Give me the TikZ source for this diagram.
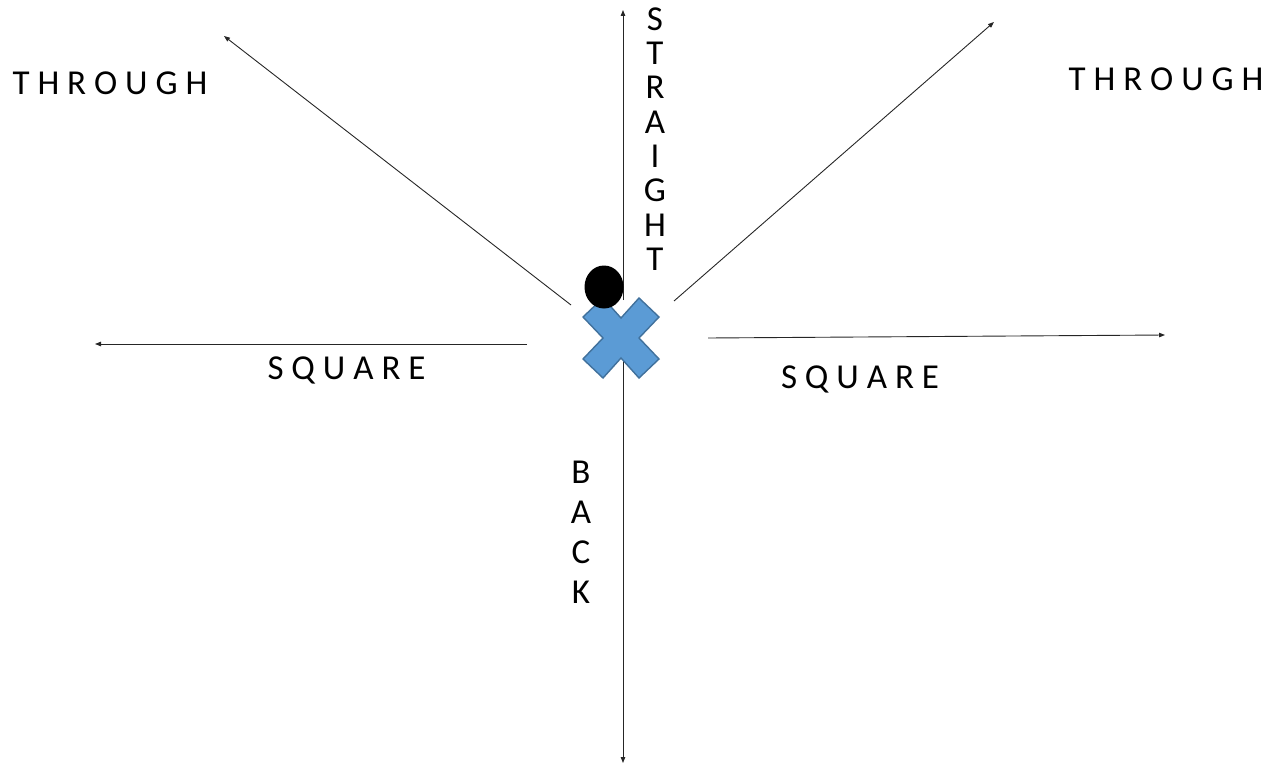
\documentclass[tikz,border=0pt]{standalone}
\usepackage{fontspec}
\setmainfont{Carlito}
\usetikzlibrary{arrows.meta,shapes.geometric}
\definecolor{xfill}{HTML}{5B9BD5}
\definecolor{xline}{HTML}{41719C}
\tikzset{
  px/.style={x=1pt,y=-1pt},
  ray/.style={draw=black!85,line width=0.9pt,-{Triangle[length=6pt,width=4.5pt]}},
  lbl/.style={inner sep=0pt,anchor=base,font=\fontsize{35}{36}\selectfont},
  stack/.style={inner sep=0pt,align=center,anchor=center},
}
\begin{document}
\begin{tikzpicture}[px]
\useasboundingbox (0,0) rectangle (1273,765);
% anchor coordinates
\coordinate (topS) at (623,300);
\coordinate (topE) at (623,10);
\coordinate (botS) at (623,360);
\coordinate (botE) at (623,763);
\coordinate (leftS) at (527,344);
\coordinate (leftE) at (95,344);
\coordinate (rightS) at (708,338);
\coordinate (rightE) at (1165,335);
\coordinate (ulS) at (571,305);
\coordinate (ulE) at (224,36);
\coordinate (urS) at (674,301);
\coordinate (urE) at (994,22);
% rays
\draw[ray] (topS) -- (topE);
\draw[ray] (botS) -- (botE);
\draw[ray] (leftS) -- (leftE);
\draw[ray] (rightS) -- (rightE);
\draw[ray] (ulS) -- (ulE);
\draw[ray] (urS) -- (urE);
% X mark
\begin{scope}[shift={(621,338)}]
\draw[fill=xfill,draw=xline,line width=1.4pt,line join=miter]
  (0,-20) -- (18,-40) -- (38,-21) -- (18,0) -- (38,21) -- (18,40)
  -- (0,20) -- (-18,40) -- (-38,21) -- (-18,0) -- (-38,-21) -- (-18,-40) -- cycle;
\end{scope}
% circle
\node[name=dot,ellipse,fill=black,inner sep=0pt,minimum width=39pt,minimum height=43pt] at (604,287) {};
% labels
\node[lbl] (thl) at (110,95) {T H R O U G H};
\node[lbl] (thr) at (1166,91) {T H R O U G H};
\node[lbl] (sql) at (346.5,379) {S Q U A R E};
\node[lbl] (sqr) at (860,388) {S Q U A R E};
\node[stack,font=\fontsize{35}{34.3}\selectfont] (straight) at (655,139) {S\\T\\R\\A\\I\\G\\H\\T};
\node[stack,font=\fontsize{35}{40}\selectfont] (back) at (581,532) {B\\A\\C\\K};
\end{tikzpicture}
\end{document}
